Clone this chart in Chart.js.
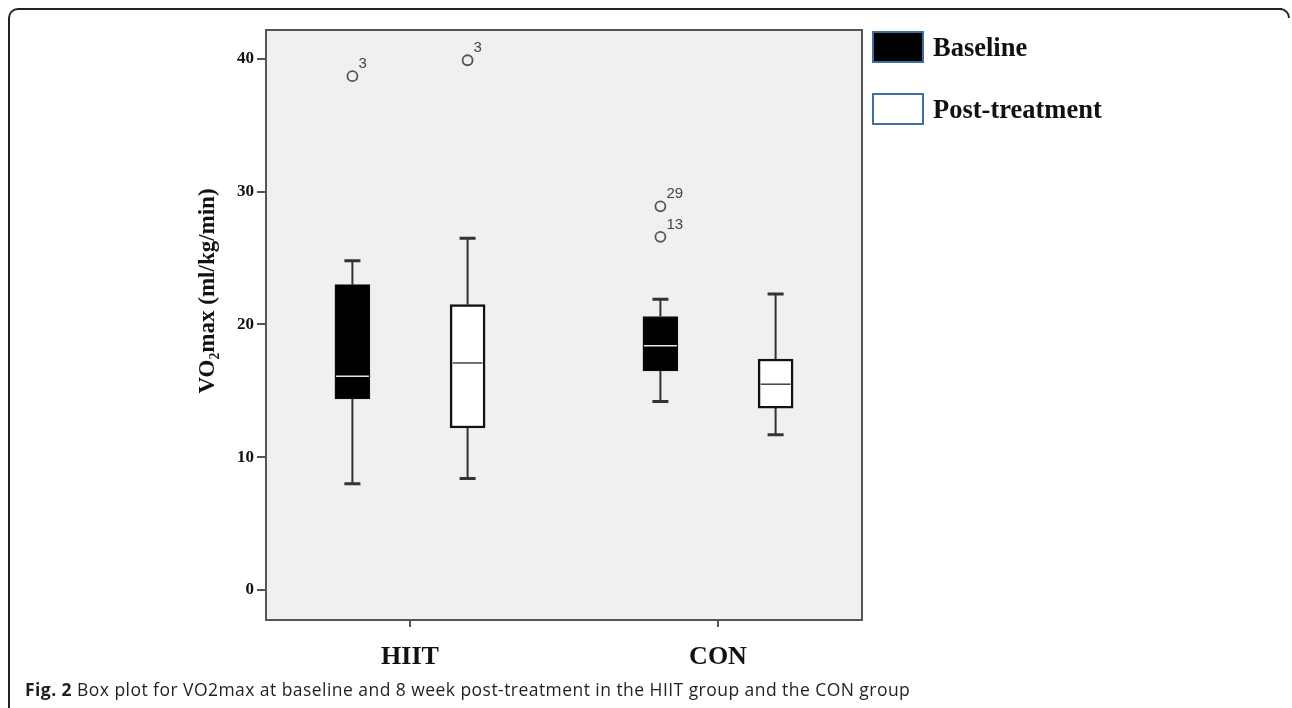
<!DOCTYPE html>
<html>
<head>
<meta charset="utf-8">
<script src="https://cdn.jsdelivr.net/npm/chart.js@4.4.0/dist/chart.umd.min.js"></script>
<style>
  body { margin: 0; background: #fff; width: 1292px; height: 708px; overflow: hidden; position: relative; }
  #frame { position: absolute; left: 8px; top: 8px; width: 1272px; height: 720px; border-top: 2px solid #222; border-left: 2px solid #222; border-top-left-radius: 10px; }
  #corner { position: absolute; left: 1278px; top: 8px; width: 10px; height: 8px; border-top: 2px solid #222; border-right: 2px solid #222; border-top-right-radius: 10px; }
  #wrap { position: absolute; left: 0; top: 0; width: 1292px; height: 680px; }
  .leg { position: absolute; left: 872px; height: 32px; display: flex; align-items: center; font: bold 26.5px "Liberation Serif", serif; color: #111; white-space: nowrap; }
  .leg .box { display: inline-block; width: 48px; height: 28px; border: 2px solid #3f6f9f; margin-right: 9px; }
  #caption { position: absolute; left: 25px; top: 677px; font: 17.5px "Open Sans", sans-serif; letter-spacing: 0.45px; color: #231f20; white-space: nowrap; }
</style>
</head>
<body>
<div id="frame"></div>
<div id="corner"></div>
<div id="wrap"><canvas id="myChart" width="1292" height="680"></canvas></div>
<div id="legend"></div>
<div id="caption"><b>Fig. 2</b> Box plot for VO2max at baseline and 8 week post-treatment in the HIIT group and the CON group</div>
<script>
// data
const categories = ["HIIT", "CON"];
const seriesNames = ["Baseline", "Post-treatment"];
const yTicks = [0, 10, 20, 30, 40];
const yTitle = "VO₂max (ml/kg/min)";

const baseMin = [8.0, 14.2];
const baseQ1 = [14.4, 16.5];
const baseMedian = [16.1, 18.4];
const baseQ3 = [23.0, 20.6];
const baseMax = [24.8, 21.9];
const baseOutliers = [[38.7], [28.9, 26.6]];
const baseOutlierIds = [["3"], ["29", "13"]];

const postMin = [8.4, 11.7];
const postQ1 = [12.2, 13.7];
const postMedian = [17.1, 15.5];
const postQ3 = [21.5, 17.4];
const postMax = [26.5, 22.3];
const postOutliers = [[39.9], []];
const postOutlierIds = [["3"], []];

const boxFill = ["#000000", "#ffffff"];
const medianColor = ["#e6e6e6", "#444444"];
const legendBorder = "#3f6f9f";
const groupOffset = 0.187;

const stats = [
  { min: baseMin, q1: baseQ1, med: baseMedian, q3: baseQ3, max: baseMax, out: baseOutliers, ids: baseOutlierIds },
  { min: postMin, q1: postQ1, med: postMedian, q3: postQ3, max: postMax, out: postOutliers, ids: postOutlierIds },
];

function xPos(s, i) {
  return i + 1 + (s === 0 ? -groupOffset : groupOffset);
}

// html legend
var legendHtml = "";
seriesNames.forEach((name, s) => {
  legendHtml += '<div class="leg" style="top:' + (31 + s * 62) + 'px"><span class="box" style="background:' +
    boxFill[s] + ';border-color:' + legendBorder + '"></span>' + name + "</div>";
});
document.getElementById("legend").innerHTML = legendHtml;

var datasets = [];
stats.forEach((st, s) => {
  datasets.push({
    type: "bar",
    label: seriesNames[s],
    data: categories.map((c, i) => ({ x: xPos(s, i), y: [st.q1[i], st.q3[i]] })),
    backgroundColor: boxFill[s],
    borderColor: "#111",
    borderWidth: s === 0 ? 1 : 2.5,
    borderSkipped: false,
    barThickness: 35,
    grouped: false,
  });
});
stats.forEach((st, s) => {
  var pts = [], ids = [];
  categories.forEach((c, i) => {
    st.out[i].forEach((v, k) => {
      pts.push({ x: xPos(s, i), y: v });
      ids.push(st.ids[i][k]);
    });
  });
  datasets.push({
    type: "scatter",
    label: seriesNames[s] + " outliers",
    data: pts,
    ids: ids,
    pointRadius: 5,
    pointBorderWidth: 1.8,
    borderColor: "#555",
    backgroundColor: "rgba(0,0,0,0)",
  });
});

const boxPlot = {
  id: "boxPlot",
  beforeDraw(chart) {
    const a = chart.chartArea, ctx = chart.ctx;
    ctx.save();
    ctx.fillStyle = "#f0f0f0";
    ctx.fillRect(a.left, a.top, a.right - a.left, a.bottom - a.top);
    ctx.restore();
  },
  beforeDatasetsDraw(chart) {
    const xs = chart.scales.x, ys = chart.scales.y, ctx = chart.ctx;
    ctx.save();
    ctx.strokeStyle = "#333";
    stats.forEach((st, s) => {
      categories.forEach((c, i) => {
        const x = xs.getPixelForValue(xPos(s, i));
        ctx.lineWidth = 2;
        ctx.beginPath();
        ctx.moveTo(x, ys.getPixelForValue(st.max[i]));
        ctx.lineTo(x, ys.getPixelForValue(st.q3[i]));
        ctx.moveTo(x, ys.getPixelForValue(st.q1[i]));
        ctx.lineTo(x, ys.getPixelForValue(st.min[i]));
        ctx.stroke();
        ctx.lineWidth = 3;
        ctx.beginPath();
        [st.max[i], st.min[i]].forEach((v) => {
          const y = ys.getPixelForValue(v);
          ctx.moveTo(x - 8, y);
          ctx.lineTo(x + 8, y);
        });
        ctx.stroke();
      });
    });
    ctx.restore();
  },
  afterDatasetsDraw(chart) {
    const ys = chart.scales.y, ctx = chart.ctx, a = chart.chartArea;
    ctx.save();
    stats.forEach((st, s) => {
      const meta = chart.getDatasetMeta(s);
      meta.data.forEach((bar, i) => {
        const y = ys.getPixelForValue(st.med[i]);
        const half = bar.width / 2 - (s === 0 ? 1 : 2.5);
        ctx.strokeStyle = medianColor[s];
        ctx.lineWidth = 1.5;
        ctx.beginPath();
        ctx.moveTo(bar.x - half, y);
        ctx.lineTo(bar.x + half, y);
        ctx.stroke();
      });
    });
    // outlier case numbers
    ctx.font = "15px 'Liberation Sans', sans-serif";
    ctx.fillStyle = "#444";
    ctx.textAlign = "left";
    ctx.textBaseline = "alphabetic";
    [2, 3].forEach((d) => {
      const ds = chart.data.datasets[d];
      chart.getDatasetMeta(d).data.forEach((pt, k) => {
        ctx.fillText(ds.ids[k], pt.x + 6, pt.y - 8);
      });
    });
    ctx.strokeStyle = "#555";
    ctx.lineWidth = 2;
    ctx.strokeRect(a.left, a.top, a.right - a.left, a.bottom - a.top);

    // y axis title, sits a bit above the middle of the axis like in the figure
    ctx.translate(208, 291);
    ctx.rotate(-Math.PI / 2);
    ctx.font = "bold 23px 'Liberation Serif', serif";
    ctx.fillStyle = "#111";
    ctx.textAlign = "center";
    ctx.textBaseline = "middle";
    ctx.fillText(yTitle, 0, 0);
    ctx.restore();
  },
};

var ctx = document.getElementById("myChart").getContext("2d");
var chart = new Chart(ctx, {
  type: "bar",
  data: { datasets: datasets },
  plugins: [boxPlot],
  options: {
    responsive: false,
    animation: false,
    devicePixelRatio: 1,
    layout: { padding: { left: 191, top: 30, right: 430, bottom: 0 } },
    plugins: {
      legend: { display: false },
      tooltip: { enabled: false },
    },
    scales: {
      x: {
        type: "linear",
        min: 0.5325,
        max: 2.4675,
        offset: false,
        afterBuildTicks: (s) => { s.ticks = categories.map((c, i) => ({ value: i + 1 })); },
        afterFit: (s) => { s.height = 60; },
        ticks: {
          callback: (v) => categories[v - 1],
          font: { family: "'Liberation Serif', serif", size: 26, weight: "bold" },
          color: "#111",
          padding: 15,
          maxRotation: 0,
          autoSkip: false,
        },
        grid: { drawOnChartArea: false, drawTicks: true, tickLength: 7, color: "#555", lineWidth: 2, offset: false },
        border: { display: false },
      },
      y: {
        type: "linear",
        min: -2.26,
        max: 42.18,
        afterBuildTicks: (s) => { s.ticks = yTicks.map((v) => ({ value: v })); },
        afterFit: (s) => { s.width = 75; },
        ticks: {
          font: { family: "'Liberation Serif', serif", size: 17, weight: "bold" },
          color: "#111",
          padding: 3,
        },
        grid: { drawOnChartArea: false, drawTicks: true, tickLength: 9, color: "#555", lineWidth: 2 },
        border: { display: false },
      },
    },
  },
});
</script>
</body>
</html>
